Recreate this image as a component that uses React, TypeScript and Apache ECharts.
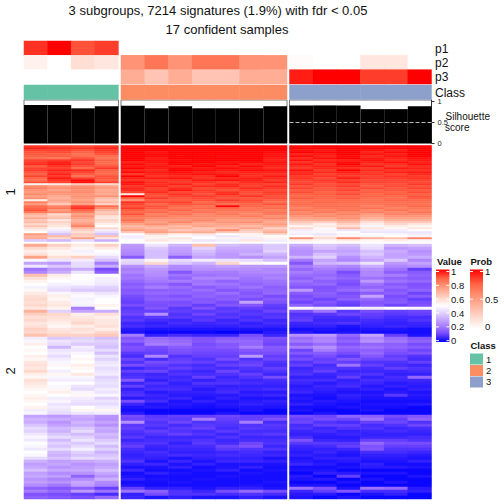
import React, { useEffect, useRef } from "react";
import * as echarts from "echarts";

const titleLines = ["3 subgroups, 7214 signatures (1.9%) with fdr < 0.05", "17 confident samples"];
const titleCentres = [218, 227];
const annotationNames = ["p1", "p2", "p3"];
const classIds = [1, 2, 3];
const classColors = ["#66C2A5", "#FC8D62", "#8DA0CB"];
const valueTicks = ["1", "0.8", "0.6", "0.4", "0.2", "0"];
const probTicks = ["1", "0.5", "0"];
const valueRamp = ["#0000FF", "#7D4FFF", "#B38BFF", "#DAC6FF", "#FFFFFF", "#FFCEC0", "#FF9E81", "#FF6647", "#FF0000"];
const probRamp = ["#FFFFFF", "#FFCEC0", "#FF9E81", "#FF6647", "#FF0000"];

const probGroup1 = [[88, 100, 80, 85], [7, 0, 17, 13], [0, 0, 0, 0]];
const probGroup2 = [[0, 0, 0, 0, 0, 0, 0], [55, 68, 55, 68, 68, 55, 55], [42, 30, 42, 30, 30, 42, 42]];
const probGroup3 = [[0, 0, 0, 0, 0, 0], [2, 0, 0, 13, 13, 0], [93, 100, 100, 85, 85, 100]];
const silhouette1 = [0.92, 0.92, 0.84, 0.89];
const silhouette2 = [0.9, 0.84, 0.89, 0.84, 0.84, 0.84, 0.89];
const silhouette3 = [0.91, 0.91, 0.91, 0.82, 0.82, 0.89];

const block1Group1 = [
[93,92,91,93],[96,95,94,96],[92,92,90,93],[90,91,88,92],[89,88,85,90],[88,89,87,86],[86,84,90,84],[92,93,94,88],
[93,96,91,86],[95,97,93,87],[89,94,90,90],[92,92,87,93],[93,96,95,88],[90,93,92,87],[88,96,89,87],[92,93,85,90],
[87,97,92,90],[86,94,99,88],[90,92,98,92],[54,56,64,60],[80,76,78,74],[82,78,80,76],[78,74,78,72],[76,78,80,74],
[80,76,76,72],[74,72,78,78],[78,70,76,68],[54,74,74,64],[82,70,78,68],[76,64,74,62],[86,82,92,86],[88,84,94,80],
[90,76,88,70],[84,80,82,64],[70,60,74,66],[66,64,78,58],[72,66,74,56],[64,56,70,62],[68,62,72,58],[60,58,76,54],
[66,56,82,50],[58,52,68,60],[54,46,62,46],[50,42,58,42],[76,36,64,36],[70,68,62,66],[72,60,74,56],[38,34,42,32]];

const block1Group2 = [
[99,100,100,100,100,100,100],[100,100,100,100,100,100,100],[100,100,100,100,100,100,100],[100,98,100,100,100,100,99],
[100,99,100,100,100,100,98],[100,99,100,100,99,100,98],[100,97,100,100,100,100,97],[100,98,99,100,100,100,96],
[96,98,100,100,98,99,98],[99,96,100,98,99,96,97],[97,98,96,100,96,99,96],[100,97,99,97,99,97,95],
[96,95,100,99,97,99,98],[99,97,98,96,95,96,96],[93,96,97,98,97,95,94],[100,94,95,95,100,94,97],
[96,97,98,94,95,97,95],[94,93,94,97,98,96,93],[98,95,93,94,92,95,96],[97,94,96,92,95,93,92],
[93,96,92,95,96,92,95],[96,92,95,91,92,95,93],[95,93,97,93,90,92,91],[92,95,91,92,94,91,93],
[56,91,94,90,95,90,92],[100,90,92,93,91,94,90],[88,93,90,91,90,89,91],[78,89,89,90,93,91,88],
[94,91,92,87,89,90,86],[92,87,90,89,86,87,90],[90,90,87,85,99,88,85],[93,89,85,87,87,84,87],
[89,85,88,83,85,85,82],[87,87,83,85,82,82,85],[90,82,85,80,84,80,83],[85,84,81,81,80,83,78],
[82,79,79,78,78,78,81],[86,77,77,81,75,75,75],[80,75,81,75,77,79,72],[74,79,74,72,74,72,76],
[68,71,68,74,71,68,71],[71,68,71,65,68,73,62],[76,73,64,67,80,64,67],[64,75,72,72,64,61,72],
[50,60,54,57,50,53,60],[46,53,50,48,44,53,50],[47,53,56,50,53,46,53],[50,56,53,44,46,56,46]];

const block1Group3 = [
[99,100,100,99,100,100],[100,100,100,100,100,100],[98,97,100,98,96,100],[100,99,100,96,99,100],
[96,97,100,98,96,100],[99,96,99,95,98,100],[95,98,100,97,96,98],[98,95,96,98,95,97],
[94,97,98,96,98,96],[97,94,100,94,95,98],[95,96,97,97,93,95],[93,95,95,93,97,96],
[98,93,100,95,94,94],[95,95,96,93,96,97],[96,92,94,94,92,95],[93,94,93,92,94,93],
[94,91,97,93,93,94],[92,93,92,91,91,92],[91,92,95,92,92,91],[93,90,91,90,90,93],
[90,91,93,89,91,90],[92,89,90,91,89,92],[89,90,92,88,90,89],[91,88,89,89,88,91],
[88,89,91,87,89,88],[87,87,88,88,87,90],[89,88,89,86,86,89],[86,86,87,85,88,87],
[85,87,86,86,85,86],[87,85,85,84,86,85],[84,86,86,82,84,87],[82,84,84,85,82,84],
[85,82,85,80,85,82],[80,84,80,82,80,85],[82,78,82,76,82,80],[77,80,77,74,77,77],
[74,74,79,70,74,74],[70,72,72,66,70,70],[64,62,68,58,64,64],[60,54,62,54,60,56],
[52,56,58,48,54,52],[60,52,68,56,52,56],[46,48,44,46,46,50],[48,52,50,44,44,44],
[46,44,48,50,48,46],[50,54,52,48,50,48],[78,60,80,70,66,80],[54,52,54,52,54,48]];

const block2Group1 = [
[72,62,55,62],[60,56,52,55],[54,52,47,50],[58,53,52,48],[74,58,62,42],[48,44,46,36],[30,28,42,22],[45,38,42,32],
[20,28,32,12],[24,32,44,16],[66,55,50,50],[58,52,50,47],[53,50,49,46],[50,47,48,45],[47,44,42,40],[52,42,38,38],
[55,48,47,44],[58,54,49,48],[60,52,47,50],[58,55,48,50],[60,56,47,53],[56,53,22,50],[70,40,30,32],[62,60,54,58],
[58,58,56,54],[60,56,58,56],[56,54,60,56],[58,52,54,58],[62,56,58,54],[60,58,56,60],[66,62,62,64],[46,38,40,36],
[48,44,42,40],[54,42,38,38],[50,34,46,36],[52,44,44,42],[50,46,48,36],[54,42,50,44],[52,46,52,40],[56,48,50,44],
[58,52,54,46],[56,50,52,42],[60,46,50,44],[54,52,56,46],[52,48,48,40],[58,46,46,42],[56,50,50,44],[54,48,44,42],
[52,52,42,46],[50,54,48,44],[52,50,52,48],[54,46,46,40],[52,48,44,44],[50,44,42,42],[53,46,50,46],[46,44,52,52],
[48,42,44,46],[30,28,32,27],[34,32,30,26],[32,27,34,30],[37,30,32,26],[42,35,38,32],[40,33,42,30],[45,38,35,35],
[48,42,40,33],[45,35,44,38],[50,40,38,42],[48,37,42,35],[45,42,47,40],[50,35,40,33],[48,33,37,37],[42,37,42,40],
[33,29,31,33],[29,31,27,29],[31,27,29,31],[36,31,31,36],[29,25,27,31],[31,29,17,27],[27,23,25,33],[29,27,31,25],
[25,21,29,23],[17,14,16,10],[22,18,28,20],[13,12,10,7],[16,14,12,18]];

const block2Group2 = [
[28,44,34,66,36,34,38],[27,38,30,40,32,32,38],[25,36,29,36,30,30,40],[24,36,27,33,28,33,34],[15,36,16,30,28,26,30],
[42,48,42,46,44,42,36],[40,60,38,34,60,52,50],[26,32,25,28,30,28,28],[22,28,24,26,26,26,24],[24,26,14,22,22,24,25],
[20,25,20,20,21,22,22],[21,23,17,24,24,20,23],[18,21,22,20,17,19,20],[15,18,14,21,20,17,19],[17,22,19,15,18,20,16],
[14,16,16,19,14,16,17],[15,18,17,16,19,14,18],[12,15,13,17,15,16,12],[11,16,16,14,16,12,15],[10,13,12,15,12,30,13],
[12,12,13,10,14,14,10],[9,14,9,13,9,10,9],[10,10,10,9,10,8,11],[11,26,8,11,8,9,8],[8,9,9,8,9,7,9],
[9,7,6,9,6,8,6],[6,5,7,6,7,5,7],[7,6,5,5,5,6,5],[4,3,3,3,3,3,3],[3,1,1,1,0,1,4],
[22,5,7,6,6,12,6],[14,19,16,13,15,15,13],[16,20,18,14,18,18,12],[11,22,20,12,14,17,11],[13,12,15,13,15,22,15],
[12,11,13,12,12,14,14],[9,10,12,11,11,12,12],[7,24,8,10,10,28,10],[11,7,10,8,12,8,11],[8,12,11,10,8,10,8],
[12,10,8,7,10,11,7],[6,8,10,8,7,8,10],[10,11,7,6,11,7,8],[7,6,8,7,8,10,6],[8,7,6,10,6,8,12],
[14,5,7,5,7,6,7],[6,8,5,8,8,7,6],[10,6,6,6,5,5,5],[5,7,7,4,6,6,7],[7,4,5,5,7,4,4],
[8,6,4,4,4,5,6],[4,5,6,3,5,3,3],[12,7,3,5,3,4,5],[6,3,4,3,4,5,4],[3,4,3,2,3,3,3],
[2,1,1,1,1,3,1],[4,1,1,1,3,1,1],[12,9,10,10,11,10,10],[11,10,9,22,10,10,13],[26,8,11,8,9,22,7],
[9,9,7,9,8,8,9],[10,7,9,10,7,9,8],[8,10,8,7,9,7,7],[7,8,10,8,6,8,9],[9,6,6,6,8,6,6],
[6,7,7,8,6,7,7],[8,8,5,9,7,11,8],[10,6,7,7,11,13,6],[7,5,6,6,9,8,8],[6,7,5,5,6,7,5],
[5,6,7,6,7,6,6],[6,5,3,5,5,5,3],[8,3,6,3,6,6,5],[5,6,3,5,3,3,3],[3,3,5,2,3,5,2],
[6,2,2,3,5,2,3],[2,5,3,2,2,3,2],[3,2,2,2,3,2,2],[5,3,2,3,2,2,2],[2,2,3,2,2,2,3],
[3,2,2,2,2,3,2],[10,5,5,3,5,5,3],[20,16,8,6,12,18,12],[5,12,8,8,7,8,7],[6,3,5,3,3,5,3]];

const block2Group3 = [
[32,38,36,44,34,36],[28,36,32,42,28,30],[26,30,30,36,32,26],[26,36,32,38,30,28],[34,40,26,34,30,32],
[21,30,24,30,38,24],[14,34,36,44,28,30],[22,26,24,32,24,26],[18,22,20,26,20,10],[22,20,12,24,16,15],
[19,18,15,24,22,17],[16,20,17,20,17,15],[20,16,14,28,20,18],[17,18,12,20,15,13],[14,13,15,17,18,14],
[28,14,18,22,14,17],[15,16,12,15,16,11],[12,15,14,30,12,15],[14,11,16,18,14,10],[11,14,11,14,15,12],
[16,12,10,15,11,13],[48,44,48,46,50,48],[12,20,9,12,10,11],[8,9,11,10,9,10],[9,7,7,9,7,7],
[10,6,6,7,6,8],[6,7,8,6,5,6],[5,5,3,5,6,5],[2,3,2,3,3,2],[4,2,3,2,2,2],
[26,28,18,30,10,3],[19,23,14,24,19,14],[21,24,17,26,21,17],[15,19,13,17,16,12],[22,26,18,20,17,15],
[11,22,15,16,14,11],[14,15,12,18,12,13],[10,12,9,14,10,8],[12,10,14,11,11,7],[8,11,10,8,8,10],
[10,7,20,10,7,6],[6,8,8,7,10,8],[7,10,6,6,6,7],[8,6,7,8,5,5],[5,5,10,5,7,18],
[7,7,5,7,6,6],[6,4,6,6,4,5],[4,6,7,4,5,4],[5,5,4,5,3,5],[6,4,3,3,4,3],
[3,3,5,4,9,4],[4,2,4,3,3,3],[3,4,3,2,2,2],[5,3,2,3,3,4],[2,2,3,2,2,1],
[3,1,1,3,1,1],[1,3,1,1,1,1],[12,11,17,16,12,14],[10,12,11,20,10,17],[11,8,7,10,11,8],
[7,10,10,7,8,11],[8,6,8,8,6,7],[6,7,5,6,7,6],[5,5,6,5,5,5],[7,4,4,6,6,7],
[13,6,5,10,10,8],[9,9,9,18,12,12],[6,7,10,13,10,10],[5,5,6,14,8,8],[4,6,4,7,7,6],
[5,4,3,5,5,4],[3,5,5,4,4,3],[4,3,4,3,3,5],[6,4,2,5,2,2],[2,2,3,4,4,3],
[3,3,1,1,1,1],[1,5,4,3,3,1],[4,1,10,1,1,3],[3,4,1,3,1,1],[1,1,3,1,3,1],
[3,3,1,1,1,1],[20,13,3,20,18,4],[6,10,14,7,7,5],[4,4,1,3,5,1],[3,1,3,1,1,1]];

const FONT = "Liberation Sans";
const columnGroups = [
  { left: 24, width: 94.4, prob: probGroup1, sil: silhouette1, b1: block1Group1, b2: block2Group1, cls: 1 },
  { left: 121, width: 166, prob: probGroup2, sil: silhouette2, b1: block1Group2, b2: block2Group2, cls: 2 },
  { left: 289.5, width: 142, prob: probGroup3, sil: silhouette3, b1: block1Group3, b2: block2Group3, cls: 3 },
];

function buildOption() {
  const grid: any[] = [];
  const xAxis: any[] = [];
  const yAxis: any[] = [];
  const series: any[] = [];
  const valueIdx: number[] = [];
  const probIdx: number[] = [];
  const classIdx: number[] = [];
  const addGrid = (g: any, x: any, y: any, s: any) => {
    const i = grid.length;
    grid.push({ containLabel: false, ...g });
    xAxis.push({ gridIndex: i, show: false, ...x });
    yAxis.push({ gridIndex: i, show: false, ...y });
    series.push({ xAxisIndex: i, yAxisIndex: i, animation: false, silent: true, ...s });
    return i;
  };
  const cat = (n: number) => Array.from({ length: n }, (_, i) => String(i));
  const cells = (rows: number[][], div = 100) =>
    rows.flatMap((row, r) => row.map((v, c) => [c, r, v / div]));

  columnGroups.forEach((g, gi) => {
    const n = g.sil.length;
    const heat = (top: number, height: number, rows: number[][], list: number[]) => {
      const i = addGrid(
        { left: g.left, top, width: g.width, height },
        { type: "category", data: cat(n) },
        { type: "category", data: cat(rows.length), inverse: true },
        { type: "heatmap", data: cells(rows), progressive: 0 },
      );
      list.push(series.length - 1);
      return i;
    };
    heat(41, 43, g.prob, probIdx);
    addGrid(
      { left: g.left, top: 85, width: g.width, height: 14.4 },
      { type: "category", data: cat(n) },
      { type: "category", data: ["Class"] },
      { type: "heatmap", data: g.sil.map((_, c) => [c, 0, g.cls]) },
    );
    classIdx.push(series.length - 1);
    addGrid(
      { left: g.left, top: 100, width: g.width, height: 43.2, show: true, borderColor: "#777777", borderWidth: 1, backgroundColor: "#FFFFFF" },
      { type: "category", data: cat(n) },
      gi === 2
        ? {
            type: "value", min: 0, max: 1.04, show: true, position: "right",
            axisLine: { show: true, onZero: false, lineStyle: { color: "#333333", width: 1 } },
            axisTick: { show: true, length: 3, customValues: [0, 0.5, 1], lineStyle: { color: "#333333" } },
            axisLabel: { show: true, customValues: [0, 0.5, 1], margin: 6, fontSize: 7.5, fontFamily: FONT, color: "#222222", formatter: (v: number) => String(v) },
            splitLine: { show: false },
          }
        : { type: "value", min: 0, max: 1.04 },
      {
        type: "bar", data: g.sil, barCategoryGap: 0, itemStyle: { color: "#000000" },
        ...(gi === 2
          ? { markLine: { silent: true, symbol: "none", label: { show: false }, data: [{ yAxis: 0.5 }], lineStyle: { color: "#BBBBBB", type: "dashed", width: 1 } } }
          : {}),
      },
    );
    heat(145.5, 96, g.b1, valueIdx);
    heat(244, 255, g.b2, valueIdx);
  });

  const txt = (text: string, x: number, y: number, fontSize: number, extra: any = {}) => ({
    type: "text", x, y,
    style: { text, fontSize, fontFamily: FONT, fill: "#111111", textVerticalAlign: "middle", ...extra },
  });
  const gradient = (ramp: string[]) =>
    new echarts.graphic.LinearGradient(0, 0, 0, 1, ramp.slice().reverse().map((color, i, a) => ({ offset: i / (a.length - 1), color })));
  const graphic: any[] = [];
  annotationNames.forEach((name, i) => graphic.push(txt(name, 435, 49 + i * 14, 12)));
  graphic.push(txt("Class", 435, 93, 12));
  graphic.push(txt("Silhouette", 445.5, 116, 10), txt("score", 445, 127, 10));
  graphic.push(txt("1", 10, 192, 13, { textAlign: "center" }));
  graphic[graphic.length - 1].rotation = Math.PI / 2;
  graphic.push(txt("2", 10, 371, 13, { textAlign: "center" }));
  graphic[graphic.length - 1].rotation = Math.PI / 2;

  graphic.push(txt("Value", 437, 261, 9.5, { fontWeight: "bold" }));
  graphic.push({ type: "rect", shape: { x: 436, y: 269.5, width: 13.4, height: 72.5 }, style: { fill: gradient(valueRamp) } });
  valueTicks.forEach((t, i) => {
    const y = 271.5 + i * 13.84;
    graphic.push({ type: "line", shape: { x1: 436, y1: y, x2: 439, y2: y }, style: { stroke: "#FFFFFF", lineWidth: 1 } });
    graphic.push({ type: "line", shape: { x1: 446.4, y1: y, x2: 449.4, y2: y }, style: { stroke: "#FFFFFF", lineWidth: 1 } });
    graphic.push(txt(t, 451, y, 9.5));
  });
  graphic.push(txt("Prob", 470.5, 261, 9.5, { fontWeight: "bold" }));
  graphic.push({ type: "rect", shape: { x: 470, y: 269.5, width: 13, height: 59.5 }, style: { fill: gradient(probRamp) } });
  probTicks.forEach((t, i) => {
    const y = 271.5 + i * 27.7;
    graphic.push({ type: "line", shape: { x1: 470, y1: y, x2: 473, y2: y }, style: { stroke: "#FFFFFF", lineWidth: 1 } });
    graphic.push({ type: "line", shape: { x1: 480, y1: y, x2: 483, y2: y }, style: { stroke: "#FFFFFF", lineWidth: 1 } });
    graphic.push(txt(t, 485, y, 9.5));
  });
  graphic.push(txt("Class", 470.5, 345, 9.5, { fontWeight: "bold" }));
  classIds.forEach((id, i) => {
    graphic.push({ type: "rect", shape: { x: 470, y: 353.5 + i * 11.5, width: 13, height: 11 }, style: { fill: classColors[i] } });
    graphic.push(txt(String(id), 486, 359.3 + i * 11.2, 9.5));
  });

  return {
    animation: false,
    backgroundColor: "#FFFFFF",
    title: titleLines.map((text, i) => ({
      text, left: titleCentres[i], top: 4 + i * 19, textAlign: "center", padding: 0,
      textStyle: { fontSize: 13, fontWeight: "normal", fontFamily: FONT, color: "#111111" },
    })),
    grid, xAxis, yAxis, series,
    visualMap: [
      { show: false, type: "continuous", min: 0, max: 1, dimension: 2, seriesIndex: valueIdx, inRange: { color: valueRamp } },
      { show: false, type: "continuous", min: 0, max: 1, dimension: 2, seriesIndex: probIdx, inRange: { color: probRamp } },
      { show: false, type: "piecewise", dimension: 2, seriesIndex: classIdx, pieces: classIds.map((id, i) => ({ value: id, color: classColors[i] })) },
    ],
    graphic,
  };
}

export default function App() {
  const ref = useRef<HTMLDivElement>(null);
  useEffect(() => {
    const chart = echarts.init(ref.current!, undefined, { renderer: "svg" });
    chart.setOption(buildOption());
    return () => chart.dispose();
  }, []);
  return <div ref={ref} style={{ position: "fixed", left: 0, top: 0, width: 504, height: 504 }} />;
}
